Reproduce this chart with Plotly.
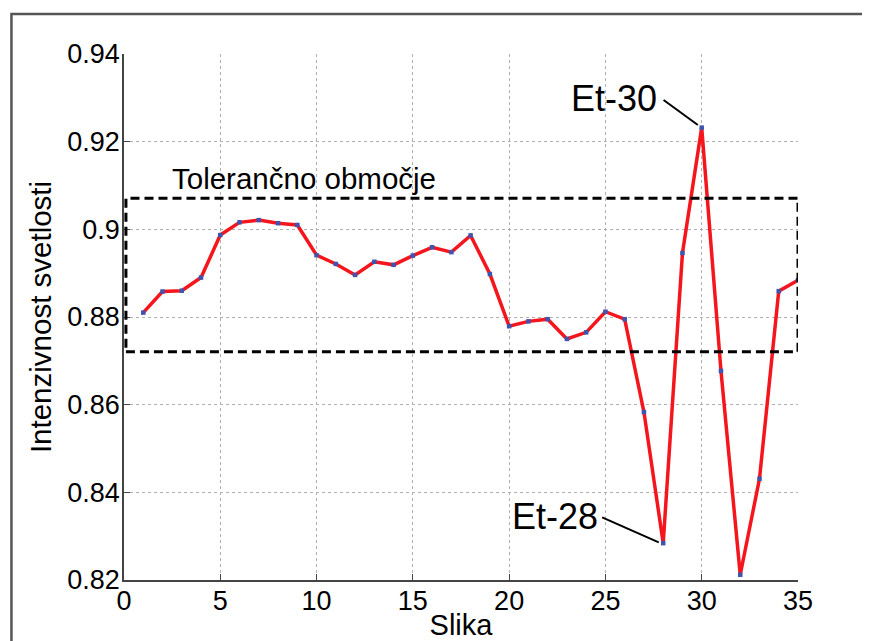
import plotly.graph_objects as go

# Data
slika = list(range(1, 36))
intenzivnost = [0.8810, 0.8858, 0.8860, 0.8890, 0.8987, 0.9016, 0.9021, 0.9014, 0.9010,
                0.8941, 0.8921, 0.8896, 0.8926, 0.8919, 0.8940, 0.8959, 0.8948, 0.8986,
                0.8898, 0.8779, 0.8790, 0.8795, 0.8750, 0.8765, 0.8812, 0.8795, 0.8583,
                0.8284, 0.8946, 0.9232, 0.8677, 0.8212, 0.8431, 0.8859, 0.8884]
x_ticks = [0, 5, 10, 15, 20, 25, 30, 35]
y_ticks = [0.82, 0.84, 0.86, 0.88, 0.90, 0.92, 0.94]
y_tick_labels = ["0.82", "0.84", "0.86", "0.88", "0.9", "0.92", "0.94"]
tolerance_x = [0.1, 35]
tolerance_y = [0.8721, 0.9071]

FONT = "Liberation Sans, Arial, sans-serif"

fig = go.Figure()
fig.add_trace(go.Scatter(
    x=slika, y=intenzivnost, mode="lines+markers",
    line=dict(color="#f4161c", width=3.5),
    marker=dict(symbol="square", size=4.5, color="#3d55b0", line=dict(width=0)),
    showlegend=False, hoverinfo="x+y",
))

# Tolerance box
fig.add_shape(type="rect", xref="x", yref="y",
              x0=tolerance_x[0], x1=tolerance_x[1], y0=tolerance_y[0], y1=tolerance_y[1],
              line=dict(color="black", width=3, dash="9px,5px"), fillcolor="rgba(0,0,0,0)")

# Outer frame
fig.add_shape(type="rect", xref="paper", yref="paper",
              x0=-0.167, x1=1.2, y0=-0.2, y1=1.076,
              line=dict(color="#555555", width=2.5), fillcolor="rgba(0,0,0,0)", layer="below")

# Annotation leader lines
fig.add_shape(type="line", xref="x", yref="y", x0=28.02, y0=0.9295, x1=29.8, y1=0.9238,
              line=dict(color="black", width=2))
fig.add_shape(type="line", xref="x", yref="y", x0=24.83, y0=0.8343, x1=27.77, y1=0.8286,
              line=dict(color="black", width=2))

fig.add_annotation(x=25.45, y=0.92985, xref="x", yref="y", text="Et-30", showarrow=False,
                   font=dict(family=FONT, size=36, color="black"))
fig.add_annotation(x=22.36, y=0.8345, xref="x", yref="y", text="Et-28", showarrow=False,
                   font=dict(family=FONT, size=36, color="black"))
fig.add_annotation(x=9.33, y=0.9116, xref="x", yref="y", text="Tolerančno območje",
                   showarrow=False, font=dict(family=FONT, size=29.5, color="black"))

fig.update_layout(
    width=870, height=641,
    margin=dict(l=116.4, r=80.3, t=46, b=69, autoexpand=False),
    paper_bgcolor="white", plot_bgcolor="white",
    font=dict(family=FONT, color="black"),
    xaxis=dict(
        range=[0, 35], tickvals=x_ticks, ticks="inside", ticklen=6, tickcolor="#444",
        showline=True, linecolor="#444", linewidth=1.5, mirror=False,
        showgrid=True, gridcolor="#b0b0b0", griddash="dot", gridwidth=1, zeroline=False,
        tickfont=dict(size=27, color="black"), ticklabelstandoff=-4,
        title=dict(text="Slika", font=dict(size=29, color="black"), standoff=0),
        automargin=False,
    ),
    yaxis=dict(
        range=[0.82, 0.94], tickvals=y_ticks, ticktext=y_tick_labels, ticks="inside", ticklen=6,
        tickcolor="#444", showline=True, linecolor="#444", linewidth=1.5, mirror=False,
        showgrid=True, gridcolor="#b0b0b0", griddash="dot", gridwidth=1, zeroline=False,
        tickfont=dict(size=27, color="black"), ticklabelstandoff=-3,
        title=dict(text="Intenzivnost svetlosti", font=dict(size=29.5, color="black"), standoff=7),
        automargin=False,
    ),
)

fig.write_html("out.html")
